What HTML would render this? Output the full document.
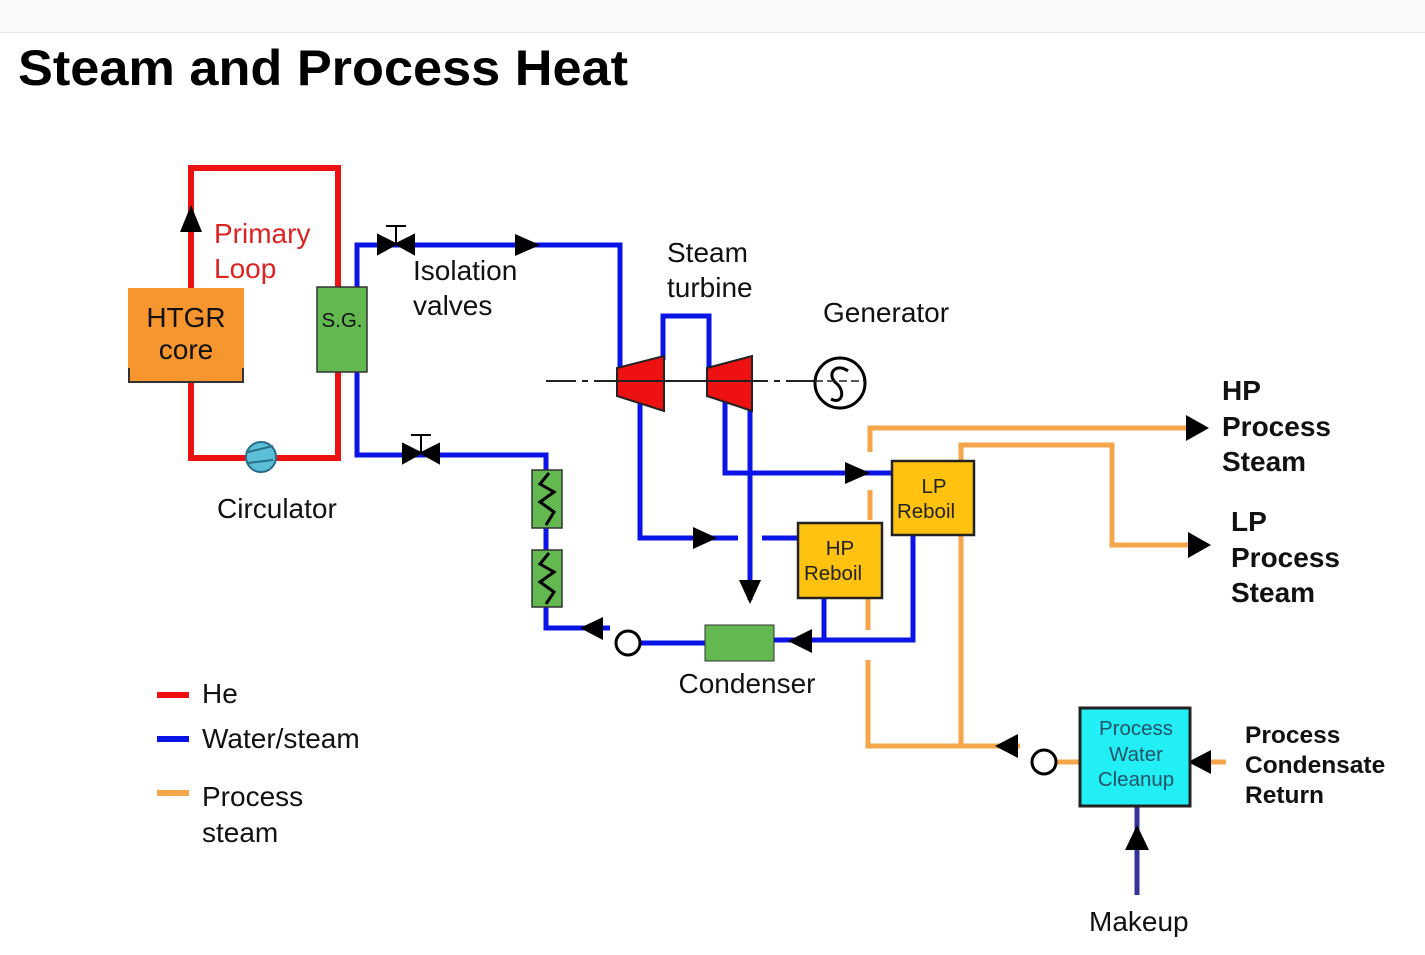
<!DOCTYPE html>
<html><head><meta charset="utf-8"><style>
html,body{margin:0;padding:0;background:#fff;}
svg{display:block;font-family:"Liberation Sans",sans-serif;}
</style></head><body>
<svg width="1425" height="955" viewBox="0 0 1425 955" xmlns="http://www.w3.org/2000/svg">
<rect x="0" y="0" width="1425" height="32" fill="#fafafa"/>
<line x1="0" y1="32.5" x2="1425" y2="32.5" stroke="#e6e6e6" stroke-width="1"/>
<text x="18" y="85" font-size="50" font-weight="bold" textLength="610" lengthAdjust="spacingAndGlyphs">Steam and Process Heat</text>

<g fill="none" stroke="#ee1111" stroke-width="6">
<polyline points="191,290 191,168 338,168 338,290"/>
<polyline points="191,380 191,458 338,458 338,370"/>
</g>
<polygon points="180,232 202,232 191,205" fill="#000"/>
<rect x="128" y="288" width="116" height="94" fill="#f7962f"/>
<line x1="129" y1="368" x2="129" y2="383" stroke="#333" stroke-width="2"/>
<line x1="243" y1="368" x2="243" y2="383" stroke="#333" stroke-width="2"/>
<line x1="128" y1="382" x2="244" y2="382" stroke="#333" stroke-width="2"/>
<text x="186" y="327" font-size="28" text-anchor="middle" fill="#111">HTGR</text>
<text x="186" y="359" font-size="28" text-anchor="middle" fill="#111">core</text>
<circle cx="261" cy="457" r="15" fill="#5bbfd8" stroke="#2a6f88" stroke-width="2"/>
<path d="M248,452 L273,446 M248,463 L273,460" stroke="#2a6f88" stroke-width="2"/>
<text x="214" y="243" font-size="28" fill="#dd2222">Primary</text>
<text x="214" y="278" font-size="28" fill="#dd2222">Loop</text>
<text x="217" y="518" font-size="28" fill="#111">Circulator</text>

<g fill="none" stroke="#0a14e6" stroke-width="5">
<polyline points="357,290 357,245 620,245 620,372"/>
<polyline points="357,370 357,455 546,455 546,472"/>
<line x1="546" y1="528" x2="546" y2="550"/>
<polyline points="546,606 546,628 610,628"/>
<line x1="636" y1="643" x2="706" y2="643"/>
<polyline points="663,360 663,316 709,316 709,368"/>
<polyline points="640,400 640,538 738,538"/>
<line x1="762" y1="538" x2="800" y2="538"/>
<polyline points="725,400 725,473 893,473"/>
<line x1="750" y1="405" x2="750" y2="600"/>
<polyline points="774,640 913,640 913,534"/>
<line x1="824" y1="597" x2="824" y2="640"/>
</g>
<rect x="317" y="287" width="50" height="85" fill="#63b84f" stroke="#333" stroke-width="1.5"/>
<text x="342" y="327" font-size="20.5" text-anchor="middle" fill="#111">S.G.</text>
<g fill="#000" stroke="#000" stroke-width="2">
<polygon points="378,235 378,254 396,244"/><polygon points="414,235 414,254 396,244"/>
<line x1="396" y1="244" x2="396" y2="226"/><line x1="386" y1="226" x2="406" y2="226"/>
<polygon points="403,444 403,463 421,453"/><polygon points="439,444 439,463 421,453"/>
<line x1="421" y1="453" x2="421" y2="435"/><line x1="411" y1="435" x2="431" y2="435"/>
</g>
<polygon points="515,234 515,256 540,245" fill="#000"/>
<text x="413" y="280" font-size="28" fill="#111">Isolation</text>
<text x="413" y="315" font-size="28" fill="#111">valves</text>
<rect x="532" y="470" width="30" height="58" fill="#63b84f" stroke="#333" stroke-width="1.5"/>
<rect x="532" y="550" width="30" height="57" fill="#63b84f" stroke="#333" stroke-width="1.5"/>
<polyline points="549,473 540,484 554,492 540,502 554,512 546,525" fill="none" stroke="#000" stroke-width="3"/>
<polyline points="549,553 540,564 554,572 540,582 554,592 546,604" fill="none" stroke="#000" stroke-width="3"/>
<polygon points="580,628 603,617 603,640" fill="#000"/>
<circle cx="628" cy="643" r="12" fill="#fff" stroke="#000" stroke-width="3"/>
<rect x="705" y="625" width="69" height="36" fill="#63b84f" stroke="#333" stroke-width="1"/>
<text x="747" y="693" font-size="28" text-anchor="middle" fill="#111">Condenser</text>
<line x1="546" y1="381" x2="815" y2="381" stroke="#222" stroke-width="2" stroke-dasharray="30,6,6,6"/>
<polygon points="617,368 664,356 664,411 617,396" fill="#ee1111" stroke="#222" stroke-width="2"/>
<polygon points="707,368 752,356 752,411 707,396" fill="#ee1111" stroke="#222" stroke-width="2"/>
<line x1="600" y1="381" x2="760" y2="381" stroke="#222" stroke-width="2"/>
<circle cx="840" cy="383" r="25" fill="#fff" stroke="#000" stroke-width="3"/>
<path d="M848,371 C836,362 826,374 836,383 C846,391 842,405 831,399" fill="none" stroke="#000" stroke-width="3"/>
<line x1="815" y1="381" x2="865" y2="381" stroke="#222" stroke-width="1.5" stroke-dasharray="8,4"/>
<text x="667" y="262" font-size="28" fill="#111">Steam</text>
<text x="667" y="297" font-size="28" fill="#111">turbine</text>
<text x="823" y="322" font-size="28" fill="#111">Generator</text>
<polygon points="693,527 693,549 717,538" fill="#000"/>
<polygon points="845,462 845,484 870,473" fill="#000"/>
<polygon points="739,580 761,580 750,604" fill="#000"/>
<polygon points="788,641 812,629 812,653" fill="#000"/>

<g fill="none" stroke="#f5a54a" stroke-width="5">
<polyline points="870,452 870,428 1190,428"/>
<line x1="870" y1="490" x2="870" y2="520"/>
<line x1="868" y1="598" x2="868" y2="630"/>
<polyline points="868,660 868,746 1020,746"/>
<polyline points="961,746 961,445 1112,445 1112,545 1190,545"/>
<line x1="1050" y1="762" x2="1082" y2="762"/>
<line x1="1175" y1="762" x2="1226" y2="762"/>
</g>
<polygon points="1186,415 1186,441 1209,428" fill="#000"/>
<polygon points="1188,532 1188,558 1211,545" fill="#000"/>
<polygon points="995,746 1018,734 1018,758" fill="#000"/>
<circle cx="1044" cy="762" r="12" fill="#fff" stroke="#000" stroke-width="3"/>
<polygon points="1188,762 1211,750 1211,774" fill="#000"/>
<rect x="798" y="523" width="84" height="75" fill="#ffc20e" stroke="#222" stroke-width="2.5"/>
<text x="840" y="555" font-size="20.5" text-anchor="middle" fill="#222">HP</text>
<text x="833" y="580" font-size="20.5" text-anchor="middle" fill="#222">Reboil</text>
<rect x="892" y="461" width="82" height="74" fill="#ffc20e" stroke="#222" stroke-width="2.5"/>
<text x="934" y="493" font-size="20.5" text-anchor="middle" fill="#222">LP</text>
<text x="926" y="518" font-size="20.5" text-anchor="middle" fill="#222">Reboil</text>
<line x1="1137" y1="806" x2="1137" y2="895" stroke="#333399" stroke-width="5"/>
<polygon points="1125,850 1149,850 1137,825" fill="#000"/>
<rect x="1080" y="708" width="110" height="98" fill="#22eef5" stroke="#222" stroke-width="3"/>
<text x="1136" y="735" font-size="20.5" text-anchor="middle" fill="#225566">Process</text>
<text x="1136" y="761" font-size="20.5" text-anchor="middle" fill="#225566">Water</text>
<text x="1136" y="786" font-size="20.5" text-anchor="middle" fill="#225566">Cleanup</text>
<text x="1089" y="931" font-size="28" fill="#111">Makeup</text>

<g font-size="28" font-weight="bold" fill="#111">
<text x="1222" y="400">HP</text><text x="1222" y="436">Process</text><text x="1222" y="471">Steam</text>
<text x="1231" y="531">LP</text><text x="1231" y="567">Process</text><text x="1231" y="602">Steam</text>
</g>
<g font-size="24.5" font-weight="bold" fill="#111">
<text x="1245" y="743">Process</text><text x="1245" y="773">Condensate</text><text x="1245" y="803">Return</text>
</g>

<line x1="157" y1="695" x2="189" y2="695" stroke="#ee1111" stroke-width="6"/>
<line x1="157" y1="739" x2="189" y2="739" stroke="#0a14e6" stroke-width="6"/>
<line x1="157" y1="793" x2="189" y2="793" stroke="#f5a54a" stroke-width="6"/>
<g font-size="28" fill="#111">
<text x="202" y="703">He</text>
<text x="202" y="748">Water/steam</text>
<text x="202" y="806">Process</text>
<text x="202" y="842">steam</text>
</g>
</svg>
</body></html>
